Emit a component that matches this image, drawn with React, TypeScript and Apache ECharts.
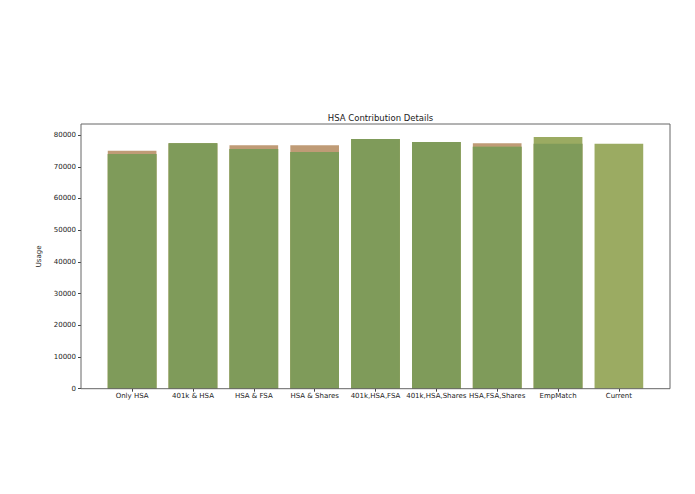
import React, { useEffect, useRef } from "react";
import * as echarts from "echarts";

const categories = [
  "Only HSA",
  "401k & HSA",
  "HSA & FSA",
  "HSA & Shares",
  "401k,HSA,FSA",
  "401k,HSA,Shares",
  "HSA,FSA,Shares",
  "EmpMatch",
  "Current",
];
const scenarioUsage = [75080, 77400, 76780, 76780, 78770, 77820, 77400, 77290, 0];
const otherUsage = [74040, 77400, 75600, 74670, 78770, 77820, 76340, 79400, 77290];
const overlapUsage = scenarioUsage.map((v, i) => Math.min(v, otherUsage[i]));

const FONT = "DejaVu Sans";

export default function App() {
  const ref = useRef<HTMLDivElement>(null);
  useEffect(() => {
    if (!ref.current) return;
    const chart = echarts.init(ref.current, null, { renderer: "svg" });
    // page coordinates minus the 8px body margin
    const plotLeft = 81 - 8;
    const plotRight = 670 - 8;
    const plotTop = 124 - 8;
    const plotBottom = 388.7 - 8;
    const unit = (plotRight - plotLeft) / 9.68;
    const gridLeft = plotLeft + 0.34 * unit;
    const gridWidth = 9 * unit;
    chart.setOption({
      animation: false,
      title: {
        text: "HSA Contribution Details",
        left: (plotLeft + plotRight) / 2,
        textAlign: "center",
        top: plotTop - 16,
        textStyle: { fontFamily: FONT, fontSize: 8.5, fontWeight: "normal", color: "#222" },
      },
      grid: {
        left: gridLeft,
        width: gridWidth,
        top: plotTop,
        height: plotBottom - plotTop,
      },
      xAxis: {
        type: "category",
        data: categories,
        axisLine: { show: false },
        axisTick: { show: true, alignWithLabel: true, length: 3, lineStyle: { color: "#444" } },
        axisLabel: { fontFamily: FONT, fontSize: 7, color: "#222", margin: 4, interval: 0 },
      },
      yAxis: {
        type: "value",
        min: 0,
        max: 83500,
        interval: 10000,
        offset: gridLeft - plotLeft,
        name: "Usage",
        nameLocation: "middle",
        nameGap: 37,
        nameTextStyle: { fontFamily: FONT, fontSize: 7, color: "#222" },
        axisLine: { show: false },
        axisTick: { show: true, length: 3, lineStyle: { color: "#444" } },
        splitLine: { show: false },
        axisLabel: {
          fontFamily: FONT,
          fontSize: 7,
          color: "#222",
          margin: 5,
          showMaxLabel: false,
          formatter: (v: number) => String(v),
        },
      },
      series: [
        {
          type: "bar",
          data: scenarioUsage,
          barWidth: 0.8 * unit,
          barGap: "-100%",
          itemStyle: { color: "#bf9b76" },
          z: 1,
        },
        {
          type: "bar",
          data: otherUsage,
          barWidth: 0.8 * unit,
          barGap: "-100%",
          itemStyle: { color: "#9bab62" },
          z: 2,
        },
        {
          type: "bar",
          data: overlapUsage,
          barWidth: 0.8 * unit,
          barGap: "-100%",
          itemStyle: { color: "#7f9b5a" },
          z: 3,
        },
      ],
      graphic: [
        {
          type: "rect",
          shape: { x: plotLeft, y: plotTop, width: plotRight - plotLeft, height: plotBottom - plotTop },
          style: { fill: "none", stroke: "#666", lineWidth: 1 },
          z: 10,
          silent: true,
        },
      ],
    });
    return () => chart.dispose();
  }, []);
  return <div ref={ref} style={{ width: 695, height: 494 }} />;
}
